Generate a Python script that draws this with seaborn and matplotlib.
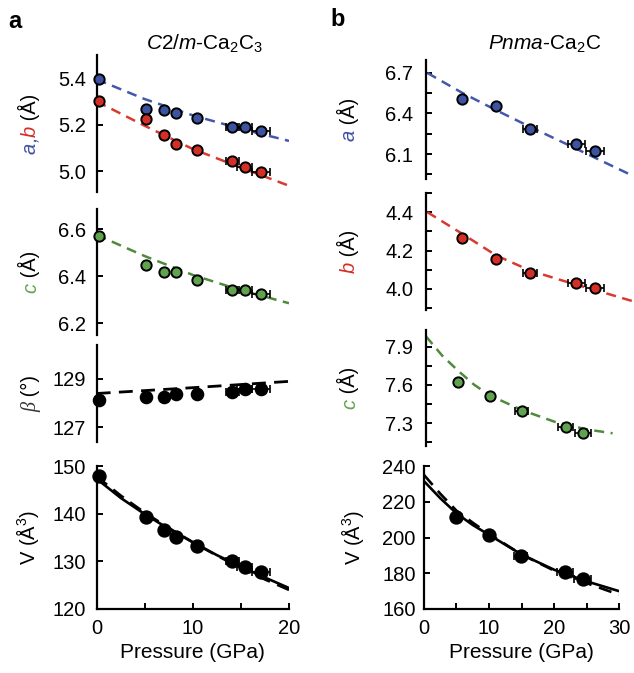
"""Lattice parameters and volume of Ca2C3 and Ca2C under pressure."""

import matplotlib
matplotlib.use("Agg")
import matplotlib.pyplot as plt
import seaborn as sns

# --- C2/m-Ca2C3 (panel a) ---
p_a = [0.2, 5.1, 7.0, 8.2, 10.4, 14.1, 15.4, 17.1]
xerr_a = [0.1, 0.2, 0.2, 0.2, 0.3, 0.7, 0.8, 0.9]
a_a = [5.395, 5.268, 5.262, 5.250, 5.228, 5.192, 5.191, 5.173]
b_a = [5.300, 5.225, 5.157, 5.117, 5.091, 5.045, 5.019, 4.996]
c_a = [6.570, 6.447, 6.416, 6.418, 6.383, 6.343, 6.340, 6.326]
beta_a = [128.15, 128.24, 128.26, 128.40, 128.40, 128.47, 128.57, 128.57]
vol_a = [147.8, 139.3, 136.5, 135.2, 133.3, 130.0, 128.9, 127.7]

pfit_a = [0, 5, 10, 15, 20]
a_fit_a = [5.395, 5.310, 5.240, 5.182, 5.130]
b_fit_a = [5.300, 5.195, 5.095, 5.015, 4.937]
c_fit_a = [6.575, 6.485, 6.405, 6.340, 6.285]
beta_fit_a = [128.40, 128.52, 128.64, 128.77, 128.90]
pvol_a = [0, 2.5, 5, 7.5, 10, 12.5, 15, 17.5, 20]
vol_fit_a = [147.3, 143.3, 139.9, 136.8, 134.0, 131.3, 128.9, 126.6, 124.4]
vol_dash_a = [147.8, 143.8, 140.2, 137.0, 134.0, 131.2, 128.6, 126.2, 124.0]

# --- Pnma-Ca2C (panel b) ---
p_b = [5.0, 10.0, 14.9, 21.7, 24.4]
xerr_b = [0.3, 0.4, 1.0, 1.2, 1.3]
a_b = [6.507, 6.456, 6.285, 6.174, 6.124]
b_b = [4.266, 4.157, 4.082, 4.033, 4.004]
c_b = [7.621, 7.516, 7.395, 7.271, 7.224]
vol_b = [211.6, 201.6, 189.8, 180.6, 177.0]

pfit_b = [0, 5, 10, 15, 20, 25, 30]
a_fit_b = [6.700, 6.555, 6.425, 6.300, 6.180, 6.058, 5.937]
b_fit_b = [4.400, 4.289, 4.175, 4.095, 4.040, 3.988, 3.935]
pc_b = [0, 2.5, 5, 7.5, 10, 15, 20, 25, 29]
c_fit_b = [7.98, 7.83, 7.71, 7.60, 7.515, 7.40, 7.31, 7.25, 7.22]
pvol_b = [0, 2.5, 5, 7.5, 10, 15, 20, 25, 30]
vol_fit_b = [231.5, 222.0, 213.5, 207.0, 201.5, 190.5, 182.0, 175.5, 170.0]
vol_dash_b = [235.0, 224.5, 215.0, 208.3, 202.0, 190.5, 181.5, 174.5, 168.0]

BLUE = "#3d52a1"
RED = "#d42f27"
GREEN = "#5fa34f"
BLUE_L = "#4358ad"
RED_L = "#d93a30"
GREEN_L = "#4f8a3d"

W, H = 634, 673
FS = 14.5

sns.set_style("ticks")
plt.rcParams["font.family"] = ["Liberation Sans", "DejaVu Sans"]
plt.rcParams["mathtext.fontset"] = "custom"
plt.rcParams["mathtext.rm"] = "Liberation Sans"
plt.rcParams["mathtext.it"] = "Liberation Sans:italic"
plt.rcParams["axes.linewidth"] = 1.6
for key in ["text.color", "axes.labelcolor", "xtick.color", "ytick.color", "axes.edgecolor"]:
    plt.rcParams[key] = "black"

fig = plt.figure(figsize=(W / 100, H / 100), dpi=100)


def add_ax(x0, x1, y0, y1):
    """Axes from pixel box (top-left origin)."""
    return fig.add_axes([x0 / W, (H - y1) / H, (x1 - x0) / W, (y1 - y0) / H])


def style(ax, bottom=False, pad=7.5):
    ax.spines[["top", "right"]].set_visible(False)
    if not bottom:
        ax.spines["bottom"].set_visible(False)
        ax.set_xticks([])
    ax.tick_params(axis="both", which="major", direction="in", length=4, width=1.4,
                   labelsize=FS, colors="black")
    ax.tick_params(axis="y", which="major", pad=pad)
    ax.tick_params(axis="x", which="major", pad=7)
    ax.tick_params(which="minor", direction="in", length=4, width=1.4)
    ax.set_xlabel("")
    ax.set_ylabel("")


def fit(ax, x, y, color, dashed=True, lw=1.8, dash=(4.0, 2.6)):
    ls = (0, dash) if dashed else "-"
    sns.lineplot(x=x, y=y, ax=ax, color=color, linestyle=ls, linewidth=lw, zorder=1)


def points(ax, x, y, xerr, color, size=55, edge="black"):
    ax.errorbar(x, y, xerr=xerr, fmt="none", ecolor="black", elinewidth=1.2,
                capsize=3, capthick=1.2, zorder=2, clip_on=False)
    sns.scatterplot(x=x, y=y, ax=ax, color=color, edgecolor=edge, linewidth=1.4,
                    s=size, zorder=3, clip_on=False, legend=False)


def stacked_label(ax, x_px, parts, size=FS):
    """Vertical y label built from coloured pieces, centred on the axes."""
    xf = x_px / W
    arts = []
    for i, (txt, color, extra) in enumerate(parts):
        kw = dict(color=color, rotation=90, rotation_mode="anchor", ha="left",
                  va="baseline", fontsize=size, **extra)
        if i == 0:
            t = fig.text(xf, 0.5, txt, **kw)
        else:
            t = ax.annotate(txt, xy=(xf, 1.0), xycoords=(fig.transFigure, arts[-1]),
                            annotation_clip=False, **kw)
        arts.append(t)
    return arts


labels = []
it = {"style": "italic"}

# ---------------- column a ----------------
ax = add_ax(96.7, 289, 55, 192)
fit(ax, pfit_a, a_fit_a, BLUE_L)
fit(ax, pfit_a, b_fit_a, RED_L)
points(ax, p_a, a_a, xerr_a, BLUE)
points(ax, p_a, b_a, xerr_a, RED)
ax.set_xlim(0, 20)
ax.set_ylim(4.91, 5.50)
ax.set_yticks([5.0, 5.2, 5.4])
ax.set_yticklabels(["5.0", "5.2", "5.4"])
style(ax)
labels.append((ax, stacked_label(ax, 36, [("a", BLUE, it), (",", BLUE, it), ("b", RED, it),
                                          (" (Å)", "black", {})])))

ax = add_ax(96.7, 289, 209, 335)
fit(ax, pfit_a, c_fit_a, GREEN_L)
points(ax, p_a, c_a, xerr_a, GREEN)
ax.set_xlim(0, 20)
ax.set_ylim(6.15, 6.685)
ax.set_yticks([6.2, 6.4, 6.6])
ax.set_yticklabels(["6.2", "6.4", "6.6"])
style(ax)
labels.append((ax, stacked_label(ax, 36, [("c", GREEN, it), (" (Å)", "black", {})])))

ax = add_ax(96.7, 289, 345, 442)
fit(ax, pfit_a, beta_fit_a, "black", lw=2.0, dash=(5, 3))
points(ax, p_a, beta_a, xerr_a, "black", size=70)
ax.set_xlim(0, 20)
ax.set_ylim(126.4, 130.4)
ax.set_yticks([127, 129])
style(ax)
labels.append((ax, stacked_label(ax, 36, [("β", "#333333", {"family": "Liberation Serif", "style": "italic"}),
                                          (" (°)", "black", {})])))

ax = add_ax(96.7, 289, 466, 609)
fit(ax, pvol_a, vol_dash_a, "black", lw=1.9, dash=(5, 3))
fit(ax, pvol_a, vol_fit_a, "black", dashed=False, lw=1.9)
points(ax, p_a, vol_a, xerr_a, "black", size=80)
ax.set_xlim(0, 20)
ax.set_ylim(120, 150)
ax.set_yticks([120, 130, 140, 150])
ax.set_xticks([0, 10, 20])
ax.set_xticks([5, 15], minor=True)
style(ax, bottom=True)
ax.set_xlabel("Pressure (GPa)", fontsize=15, labelpad=4)
labels.append((ax, stacked_label(ax, 35, [("V (Å$^3$)", "black", {})])))

# ---------------- column b ----------------
ax = add_ax(426, 634, 60, 179)
fit(ax, pfit_b, a_fit_b, BLUE_L)
points(ax, p_b, a_b, xerr_b, BLUE)
ax.set_xlim(-0.2, 30.1)
ax.set_ylim(5.915, 6.796)
ax.set_yticks([6.1, 6.4, 6.7])
ax.set_yticks([5.95, 6.25, 6.55], minor=True)
style(ax, pad=9)
labels.append((ax, stacked_label(ax, 355, [("a", BLUE, it), (" (Å)", "black", {})])))

ax = add_ax(426, 634, 193, 310)
fit(ax, pfit_b, b_fit_b, RED_L)
points(ax, p_b, b_b, xerr_b, RED)
ax.set_xlim(-0.2, 30.1)
ax.set_ylim(3.89, 4.50)
ax.set_yticks([4.0, 4.2, 4.4])
ax.set_yticks([3.9, 4.1, 4.3, 4.5], minor=True)
style(ax, pad=9)
labels.append((ax, stacked_label(ax, 355, [("b", RED, it), (" (Å)", "black", {})])))

ax = add_ax(426, 619, 330, 446)
fit(ax, pc_b, c_fit_b, GREEN_L)
points(ax, p_b, c_b, xerr_b, GREEN)
ax.set_xlim(0, 30)
ax.set_ylim(7.12, 8.03)
ax.set_yticks([7.3, 7.6, 7.9])
ax.set_yticks([7.15, 7.45, 7.75], minor=True)
style(ax, pad=9)
labels.append((ax, stacked_label(ax, 355, [("c", GREEN, it), (" (Å)", "black", {})])))

ax = add_ax(424, 619, 466, 609)
fit(ax, pvol_b, vol_dash_b, "black", lw=1.9, dash=(5, 3))
fit(ax, pvol_b, vol_fit_b, "black", dashed=False, lw=1.9)
points(ax, p_b, vol_b, xerr_b, "black", size=80)
ax.set_xlim(0, 30)
ax.set_ylim(160, 240)
ax.set_yticks([160, 180, 200, 220, 240])
ax.set_xticks([0, 10, 20, 30])
ax.set_xticks([5, 15, 25], minor=True)
style(ax, bottom=True, pad=6)
ax.set_xlabel("Pressure (GPa)", fontsize=15, labelpad=4)
labels.append((ax, stacked_label(ax, 360, [("V (Å$^3$)", "black", {})])))

# titles and panel letters
fig.text(205 / W, 1 - 44 / H, r"$\mathit{C2/m}$-Ca$_2$C$_3$", ha="center", va="center", fontsize=15)
fig.text(545 / W, 1 - 44 / H, r"$\mathit{Pnma}$-Ca$_2$C", ha="center", va="center", fontsize=15)
fig.text(15 / W, 1 - 22 / H, "a", ha="center", va="center", fontsize=17, fontweight="bold")
fig.text(338 / W, 1 - 20 / H, "b", ha="center", va="center", fontsize=17, fontweight="bold")

# centre the stacked labels on their axes
fig.canvas.draw()
r = fig.canvas.get_renderer()
for ax, arts in labels:
    y0 = arts[0].get_window_extent(r).y0
    y1 = arts[-1].get_window_extent(r).y1
    box = ax.get_window_extent(r)
    shift = ((box.y0 + box.y1) / 2 - (y0 + y1) / 2) / fig.bbox.height
    x, y = arts[0].get_position()
    arts[0].set_position((x, y + shift))

fig.savefig("out.png", dpi=100)
